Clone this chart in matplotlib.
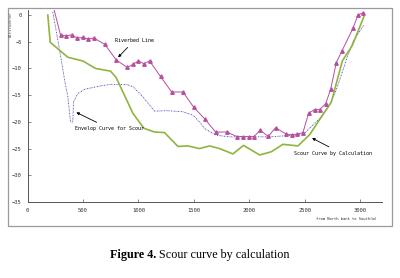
import matplotlib
matplotlib.use("Agg")
import matplotlib.pyplot as plt
from matplotlib.patches import Rectangle

# ---- data ----
riverbed_x = [240, 298, 349, 397, 448, 499, 548, 599, 698, 800, 900, 951, 999, 1050, 1101,
              1200, 1300, 1402, 1501, 1597, 1697, 1799, 1889, 1943, 1995, 2042, 2100, 2172,
              2238, 2335, 2383, 2434, 2485, 2536, 2590, 2635, 2690, 2735, 2786, 2837, 2936,
              2981, 3026]
riverbed_y = [1.0, -3.75, -3.9, -3.7, -4.3, -4.2, -4.5, -4.3, -5.5, -8.4, -9.8, -9.25, -8.6,
              -9.1, -8.6, -11.5, -14.4, -14.4, -17.3, -19.4, -21.9, -21.9, -22.75, -22.75,
              -22.75, -22.75, -21.6, -22.7, -21.1, -22.3, -22.4, -22.3, -22.0, -18.4, -17.7,
              -17.7, -16.6, -13.9, -8.9, -6.7, -2.5, 0.0, 0.4]

scour_x = [183, 205, 364, 499, 614, 749, 800, 951, 1050, 1146, 1236, 1357, 1447, 1552, 1643,
           1733, 1853, 1949, 2094, 2199, 2304, 2440, 2545, 2741, 2840, 2930, 3035]
scour_y = [0.0, -5.1, -7.9, -8.6, -10.0, -10.5, -11.7, -18.4, -21.2, -21.9, -22.0, -24.6,
           -24.5, -25.0, -24.5, -25.0, -26.0, -24.4, -26.2, -25.6, -24.2, -24.5, -22.4,
           -16.3, -8.6, -5.7, -0.3]

env_x = [228, 289, 340, 364, 388, 409, 415, 454, 514, 650, 740, 890, 951, 1041, 1146, 1252,
         1402, 1492, 1552, 1597, 1703, 1823, 2000, 2184, 2400, 2485, 2635, 2726, 2786, 2876,
         2936, 3032]
env_y = [0.6, -6.5, -12.8, -15.3, -20.0, -20.0, -16.25, -14.7, -13.9, -13.3, -13.0, -13.0,
         -13.4, -15.3, -18.0, -17.9, -18.1, -18.75, -20.0, -21.25, -22.5, -22.8, -22.8, -22.8,
         -22.5, -22.4, -19.4, -16.8, -14.0, -8.4, -5.0, -1.9]

x_ticks = [0, 500, 1000, 1500, 2000, 2500, 3000]
y_ticks = [0, -5, -10, -15, -20, -25, -30, -35]

W, H = 400, 278
fig = plt.figure(figsize=(W / 100, H / 100), dpi=100)
fig.patch.set_facecolor("white")

# outer frame
fig.add_artist(Rectangle((8 / W, 1 - 226 / H), (392 - 8) / W, (226 - 8) / H,
                         transform=fig.transFigure, fill=False, edgecolor="#9a9a9a",
                         linewidth=0.9))

left = 27.5 / W
right = (27.5 + 354.7) / W
bottom = 1 - 202 / H
top = 1 - 9.7 / H
ax = fig.add_axes([left, bottom, right - left, top - bottom])
ax.set_xlim(0, 3200)
ax.set_ylim(-35, 1)

mono = "DejaVu Sans Mono"

ax.plot(env_x, env_y, color="#4a4aac", linestyle=(0, (1.5, 1.0, 0.6, 1.0)), linewidth=0.6)
ax.plot(scour_x, scour_y, color="#8fb53e", linewidth=1.2)
ax.plot(riverbed_x, riverbed_y, color="#b5509f", linewidth=0.7, marker="^",
        markersize=2.5, markevery=list(range(1, len(riverbed_x))))

for s in ["top", "right"]:
    ax.spines[s].set_visible(False)
for s in ["left", "bottom"]:
    ax.spines[s].set_color("#555555")
    ax.spines[s].set_linewidth(0.7)

ax.set_xticks(x_ticks)
ax.set_yticks(y_ticks)
ax.tick_params(direction="in", length=2, width=0.5, colors="#555555", labelsize=4,
               labelcolor="#333333", pad=4)
for lab in ax.get_xticklabels() + ax.get_yticklabels():
    lab.set_family(mono)

fig.text(11 / W, 1 - 24 / H, "Altitude(m)", rotation=90, fontsize=2.8, family=mono,
         color="#555555", ha="center", va="center")
fig.text(377 / W, 1 - 219 / H, "from North bank to South(m)", fontsize=2.7, family=mono,
         color="#333333", ha="right", va="center")

arrow = dict(arrowstyle="-|>", color="black", lw=0.6, mutation_scale=4)
ax.annotate("Riverbed Line", xy=(800, -8.3), xytext=(790, -4.7), fontsize=3.6,
            family=mono, ha="left", va="center", arrowprops=arrow)
ax.annotate("Envelop Curve for Scour", xy=(418, -18.0), xytext=(433, -21.3),
            fontsize=3.6, family=mono, ha="left", va="center", arrowprops=arrow)
ax.annotate("Scour Curve by Calculation", xy=(2545, -22.8), xytext=(2403, -25.9),
            fontsize=3.6, family=mono, ha="left", va="center",
            arrowprops=dict(arrowstyle="-|>", color="black", lw=0.6, mutation_scale=4,
                            relpos=(0.55, 1.0)))

t1 = fig.text(110 / W, 1 - 255 / H, "Figure 4.", fontsize=8.7, fontweight="bold",
              family="Liberation Serif", ha="left", va="center")
fig.canvas.draw()
bb = t1.get_window_extent()
fig.text((bb.x1 + 3) / W, 1 - 255 / H, "Scour curve by calculation", fontsize=8.7,
         family="Liberation Serif", ha="left", va="center")

fig.savefig("out.png", dpi=100)
